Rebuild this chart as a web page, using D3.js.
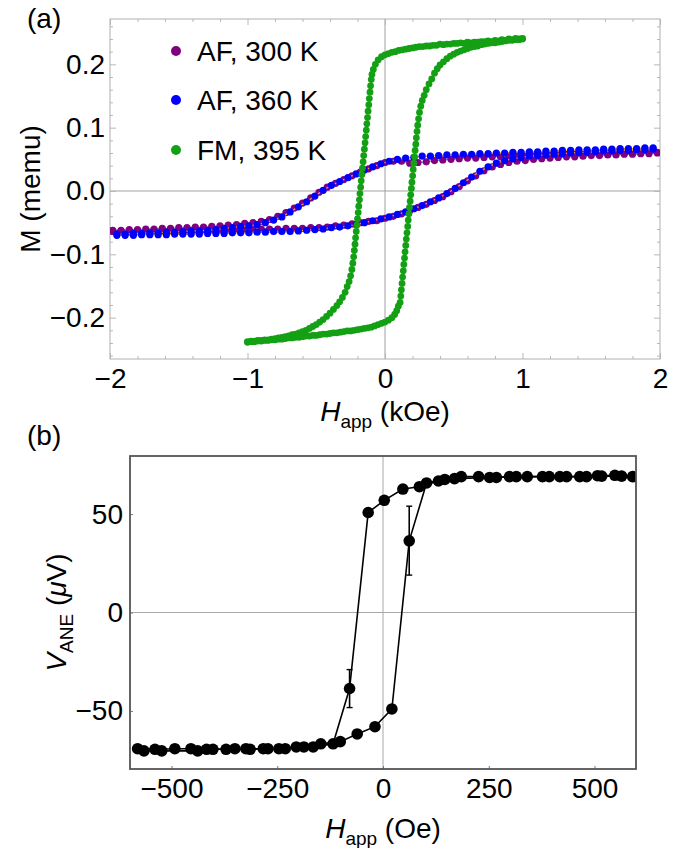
<!DOCTYPE html>
<html><head><meta charset="utf-8">
<script src="https://cdn.jsdelivr.net/npm/d3@7"></script>
<style>
body{margin:0;background:#fff}
svg{display:block}
text{font-family:"Liberation Sans",Arial,Helvetica,sans-serif;fill:#000}
</style>
</head><body>
<svg id="c" width="685" height="848"></svg>
<script>
// ---------------- Panel (a) data ----------------
const SERIES_A = ["AF, 300 K", "AF, 360 K", "FM, 395 K"];
const H_300 = [-1.98,-1.92,-1.86,-1.80,-1.74,-1.68,-1.62,-1.56,-1.50,-1.44,-1.38,-1.32,-1.26,-1.20,-1.14,-1.08,-1.02,-0.96,-0.90,-0.84,-0.78,-0.72,-0.66,-0.60,-0.54,-0.48,-0.42,-0.36,-0.30,-0.24,-0.18,-0.12,-0.06,0.00,0.06,0.12,0.18,0.24,0.30,0.36,0.42,0.48,0.54,0.60,0.66,0.72,0.78,0.84,0.90,0.96,1.02,1.08,1.14,1.20,1.26,1.32,1.38,1.44,1.50,1.56,1.62,1.68,1.74,1.80,1.86,1.92,1.98];
const M_300_DOWN = [-0.062,-0.062,-0.061,-0.061,-0.060,-0.060,-0.059,-0.059,-0.058,-0.058,-0.057,-0.057,-0.056,-0.055,-0.054,-0.053,-0.051,-0.050,-0.048,-0.045,-0.040,-0.034,-0.027,-0.019,-0.011,-0.002,0.006,0.012,0.018,0.024,0.030,0.035,0.040,0.045,0.047,0.047,0.044,0.045,0.046,0.048,0.049,0.050,0.051,0.052,0.052,0.053,0.054,0.054,0.055,0.055,0.055,0.056,0.056,0.057,0.057,0.058,0.058,0.058,0.059,0.059,0.059,0.060,0.060,0.060,0.060,0.061,0.061];
const M_300_UP = [-0.064,-0.064,-0.064,-0.064,-0.064,-0.063,-0.063,-0.063,-0.063,-0.063,-0.062,-0.062,-0.062,-0.062,-0.062,-0.061,-0.061,-0.061,-0.060,-0.060,-0.060,-0.059,-0.059,-0.059,-0.058,-0.058,-0.057,-0.055,-0.054,-0.052,-0.050,-0.048,-0.047,-0.043,-0.040,-0.036,-0.031,-0.026,-0.021,-0.015,-0.009,-0.001,0.007,0.016,0.024,0.032,0.038,0.042,0.045,0.047,0.048,0.050,0.051,0.052,0.053,0.054,0.054,0.055,0.056,0.056,0.057,0.057,0.058,0.058,0.059,0.059,0.060];
const H_360 = [-1.95,-1.89,-1.83,-1.77,-1.71,-1.65,-1.59,-1.53,-1.47,-1.41,-1.35,-1.29,-1.23,-1.17,-1.11,-1.05,-0.99,-0.93,-0.87,-0.81,-0.75,-0.69,-0.63,-0.57,-0.51,-0.45,-0.39,-0.33,-0.27,-0.21,-0.15,-0.09,-0.03,0.03,0.09,0.15,0.21,0.27,0.33,0.39,0.45,0.51,0.57,0.63,0.69,0.75,0.81,0.87,0.93,0.99,1.05,1.11,1.17,1.23,1.29,1.35,1.41,1.47,1.53,1.59,1.65,1.71,1.77,1.83,1.89,1.95];
const M_360_DOWN = [-0.068,-0.068,-0.067,-0.067,-0.066,-0.066,-0.065,-0.065,-0.064,-0.063,-0.063,-0.062,-0.061,-0.059,-0.058,-0.056,-0.055,-0.053,-0.050,-0.046,-0.041,-0.033,-0.025,-0.017,-0.008,0.001,0.009,0.015,0.021,0.027,0.033,0.038,0.043,0.047,0.050,0.052,0.053,0.055,0.055,0.056,0.057,0.057,0.058,0.058,0.059,0.059,0.060,0.060,0.061,0.061,0.062,0.062,0.063,0.063,0.064,0.064,0.065,0.065,0.065,0.066,0.066,0.067,0.067,0.067,0.068,0.068];
const M_360_UP = [-0.070,-0.070,-0.070,-0.069,-0.069,-0.069,-0.069,-0.068,-0.068,-0.068,-0.068,-0.067,-0.067,-0.067,-0.066,-0.066,-0.066,-0.065,-0.065,-0.064,-0.064,-0.064,-0.063,-0.062,-0.061,-0.060,-0.058,-0.057,-0.055,-0.053,-0.050,-0.047,-0.044,-0.041,-0.037,-0.033,-0.028,-0.023,-0.017,-0.011,-0.004,0.004,0.013,0.022,0.031,0.038,0.044,0.048,0.051,0.053,0.055,0.056,0.057,0.058,0.059,0.060,0.061,0.061,0.062,0.063,0.063,0.064,0.064,0.065,0.065,0.066];
// FM, 395 K : sweep down (from +1 kOe) and sweep up (from -1 kOe)
const H_395_DOWN = [1.000,0.975,0.950,0.925,0.900,0.875,0.850,0.825,0.800,0.775,0.750,0.725,0.700,0.675,0.650,0.625,0.600,0.575,0.550,0.525,0.500,0.475,0.450,0.425,0.400,0.375,0.350,0.325,0.300,0.275,0.250,0.225,0.200,0.175,0.150,0.125,0.100,0.075,0.050,0.025,0.000,-0.025,-0.050,-0.070,-0.085,-0.095,
 -0.100,-0.105,-0.109,-0.114,-0.118,-0.123,-0.127,-0.132,-0.136,-0.141,-0.145,-0.150,-0.155,-0.159,-0.164,-0.168,-0.173,-0.177,-0.182,-0.186,-0.191,-0.195,-0.200,-0.205,-0.209,-0.214,-0.218,-0.223,-0.228,-0.234,-0.241,-0.250,-0.261,-0.275,
 -0.290,-0.310,-0.330,-0.350,-0.375,-0.400,-0.425,-0.450,-0.475,-0.500,-0.525,-0.550,-0.575,-0.600,-0.625,-0.650,-0.675,-0.700,-0.725,-0.750,-0.775,-0.800,-0.825,-0.850,-0.875,-0.900,-0.925,-0.950,-0.975,-1.000];
const M_395_DOWN = [0.241,0.240,0.241,0.239,0.240,0.238,0.239,0.237,0.238,0.236,0.237,0.236,0.236,0.235,0.235,0.234,0.235,0.233,0.234,0.233,0.233,0.232,0.232,0.231,0.232,0.230,0.230,0.229,0.229,0.228,0.228,0.227,0.226,0.225,0.224,0.223,0.222,0.220,0.219,0.217,0.215,0.212,0.207,0.200,0.192,0.184,
 0.176,0.166,0.156,0.146,0.136,0.126,0.116,0.106,0.096,0.086,0.076,0.066,0.056,0.046,0.036,0.026,0.016,0.006,-0.004,-0.014,-0.024,-0.034,-0.044,-0.054,-0.064,-0.074,-0.084,-0.094,-0.104,-0.114,-0.124,-0.134,-0.143,-0.151,
 -0.160,-0.168,-0.175,-0.181,-0.187,-0.193,-0.198,-0.203,-0.207,-0.211,-0.214,-0.217,-0.220,-0.222,-0.224,-0.226,-0.227,-0.229,-0.230,-0.231,-0.232,-0.233,-0.234,-0.235,-0.235,-0.236,-0.236,-0.237,-0.237,-0.238];
const H_395_UP = [-1.000,-0.975,-0.950,-0.925,-0.900,-0.875,-0.850,-0.825,-0.800,-0.775,-0.750,-0.725,-0.700,-0.675,-0.650,-0.625,-0.600,-0.575,-0.550,-0.525,-0.500,-0.475,-0.450,-0.425,-0.400,-0.375,-0.350,-0.325,-0.300,-0.275,-0.250,-0.225,-0.200,-0.175,-0.150,-0.125,-0.100,-0.075,-0.050,-0.025,0.000,0.025,0.050,0.070,0.085,0.097,
 0.110,0.115,0.119,0.124,0.128,0.133,0.137,0.142,0.146,0.151,0.155,0.160,0.165,0.169,0.174,0.178,0.183,0.187,0.192,0.196,0.201,0.205,0.210,0.215,0.219,0.224,0.228,0.233,0.238,0.244,0.251,0.260,0.271,0.285,
 0.300,0.320,0.340,0.360,0.380,0.400,0.425,0.450,0.475,0.500,0.525,0.550,0.575,0.600,0.625,0.650,0.675,0.700,0.725,0.750,0.775,0.800,0.825,0.850,0.875,0.900,0.925,0.950,0.975,1.000];
const M_395_UP = [-0.239,-0.238,-0.238,-0.237,-0.237,-0.236,-0.236,-0.235,-0.235,-0.234,-0.234,-0.233,-0.232,-0.232,-0.231,-0.231,-0.230,-0.229,-0.229,-0.228,-0.228,-0.227,-0.226,-0.226,-0.225,-0.224,-0.224,-0.223,-0.222,-0.221,-0.221,-0.220,-0.219,-0.218,-0.217,-0.216,-0.215,-0.213,-0.211,-0.209,-0.207,-0.204,-0.200,-0.195,-0.189,-0.182,
 -0.176,-0.166,-0.156,-0.146,-0.136,-0.126,-0.116,-0.106,-0.096,-0.086,-0.076,-0.066,-0.056,-0.046,-0.036,-0.026,-0.016,-0.006,0.004,0.014,0.024,0.034,0.044,0.054,0.064,0.074,0.084,0.094,0.104,0.114,0.124,0.134,0.143,0.151,
 0.160,0.169,0.177,0.186,0.193,0.199,0.204,0.209,0.213,0.216,0.219,0.221,0.223,0.225,0.227,0.228,0.229,0.231,0.232,0.233,0.234,0.234,0.235,0.236,0.237,0.238,0.238,0.239,0.239,0.240];
const A_XTICKS = [-2,-1,0,1,2];
const A_XLABELS = ["\u22122","\u22121","0","1","2"];
const A_YTICKS = [-0.2,-0.1,0,0.1,0.2];
const A_YLABELS = ["\u22120.2","\u22120.1","0.0","0.1","0.2"];

// ---------------- Panel (b) data ----------------
const H_B_DOWN = [590,548,507,465,418,377,341,299,252,169,131,86,47,3,-35,-79,-118,-165,-187,-231,-272,-314,-350,-402,-438,-523,-565];
const V_B_DOWN = [69,69.7,69.5,69,69,69,69,69,68.6,68,66.8,63.9,62.7,57,50.8,-38.6,-66.7,-68.3,-68.3,-69.2,-69.2,-69.5,-69.2,-69.5,-70.3,-70.3,-70.3];
const H_B_UP = [-580,-539,-492,-454,-417,-371,-324,-283,-246,-205,-147,-101,-61,-19,21,62,103,146,185,226,268,315,393,434,481,517,564];
const V_B_UP = [-69.2,-69.5,-69.2,-69.2,-69.5,-69.5,-69.2,-69.2,-69.2,-68.3,-66.7,-65.6,-61.7,-58,-49,36.4,65.8,67.6,69,69,68.6,69,69,69,69,69.3,69.3];
const ERR_H = [-79, 62];
const ERR_V = [-38.6, 36.4];
const ERR_LO = [-48.3, 19];
const ERR_HI = [-29, 54];
const B_XTICKS = [-500,-250,0,250,500];
const B_XLABELS = ["\u2212500","\u2212250","0","250","500"];
const B_YTICKS = [-50,0,50];
const B_YLABELS = ["\u221250","0","50"];

// ---------------- Drawing ----------------
const svg = d3.select("#c");
const FS = 28;
const FSUB = 19;
const COLORS = ["#800080", "#0000ff", "#14a014"];
const LINECOL = ["#6b8fc4", "#e3a23a", "#e3a23a"];

function styleAxis(g, col) {
  g.select(".domain").remove();
  g.selectAll(".tick line").attr("stroke", col);
  g.selectAll(".tick text").attr("font-size", FS).attr("fill", "#000")
   .attr("font-family", '"Liberation Sans",Arial,sans-serif');
}

// ===== Panel A =====
const ax = d3.scaleLinear().domain([-2, 2]).range([110, 660]);
const ay = d3.scaleLinear().domain([-0.2653, 0.2716]).range([359, 19]);
const gA = svg.append("g");
gA.append("defs").append("clipPath").attr("id", "clipA").append("rect")
  .attr("x", ax.range()[0]).attr("y", ay.range()[1])
  .attr("width", ax.range()[1] - ax.range()[0]).attr("height", ay.range()[0] - ay.range()[1]);

// zero lines
gA.append("line").attr("x1", ax(0)).attr("x2", ax(0)).attr("y1", ay.range()[0]).attr("y2", ay.range()[1]).attr("stroke", "#a0a0a0").attr("stroke-width", 1);
gA.append("line").attr("x1", ax.range()[0]).attr("x2", ax.range()[1]).attr("y1", ay(0)).attr("y2", ay(0)).attr("stroke", "#a0a0a0").attr("stroke-width", 1);

const tickCol = "#b8b8b8";
const xMinorA = d3.range(-2, 2.0001, 0.2).filter(v => Math.abs(v - Math.round(v)) > 1e-6);
const yMinorA = d3.range(-0.26, 0.2701, 0.02).filter(v => Math.abs(v * 10 - Math.round(v * 10)) > 1e-6);
// bottom
gA.append("g").attr("transform", `translate(0,${ay.range()[0]})`)
  .call(d3.axisBottom(ax).tickValues(A_XTICKS).tickFormat((d, i) => A_XLABELS[i]).tickSizeInner(-6).tickSizeOuter(0).tickPadding(9))
  .call(g => styleAxis(g, tickCol));
gA.append("g").attr("transform", `translate(0,${ay.range()[0]})`)
  .call(d3.axisBottom(ax).tickValues(xMinorA).tickFormat("").tickSizeInner(-3).tickSizeOuter(0)).call(g => styleAxis(g, tickCol));
// top
gA.append("g").attr("transform", `translate(0,${ay.range()[1]})`)
  .call(d3.axisTop(ax).tickValues(A_XTICKS).tickFormat("").tickSizeInner(-6).tickSizeOuter(0)).call(g => styleAxis(g, tickCol));
gA.append("g").attr("transform", `translate(0,${ay.range()[1]})`)
  .call(d3.axisTop(ax).tickValues(xMinorA).tickFormat("").tickSizeInner(-3).tickSizeOuter(0)).call(g => styleAxis(g, tickCol));
// left
gA.append("g").attr("transform", `translate(${ax.range()[0]},0)`)
  .call(d3.axisLeft(ay).tickValues(A_YTICKS).tickFormat((d, i) => A_YLABELS[i]).tickSizeInner(-6).tickSizeOuter(0).tickPadding(5))
  .call(g => styleAxis(g, tickCol));
gA.append("g").attr("transform", `translate(${ax.range()[0]},0)`)
  .call(d3.axisLeft(ay).tickValues(yMinorA).tickFormat("").tickSizeInner(-3).tickSizeOuter(0)).call(g => styleAxis(g, tickCol));
// right
gA.append("g").attr("transform", `translate(${ax.range()[1]},0)`)
  .call(d3.axisRight(ay).tickValues(A_YTICKS).tickFormat("").tickSizeInner(-6).tickSizeOuter(0)).call(g => styleAxis(g, tickCol));
gA.append("g").attr("transform", `translate(${ax.range()[1]},0)`)
  .call(d3.axisRight(ay).tickValues(yMinorA).tickFormat("").tickSizeInner(-3).tickSizeOuter(0)).call(g => styleAxis(g, tickCol));

// frame
gA.append("rect").attr("x", ax.range()[0]).attr("y", ay.range()[1])
  .attr("width", ax.range()[1] - ax.range()[0]).attr("height", ay.range()[0] - ay.range()[1])
  .attr("fill", "none").attr("stroke", "#b0b0b0").attr("stroke-width", 1);

const seriesA = [
  {col: 0, branches: [[H_300, M_300_UP], [H_300.slice().reverse(), M_300_DOWN.slice().reverse()]]},
  {col: 1, branches: [[H_360, M_360_UP], [H_360.slice().reverse(), M_360_DOWN.slice().reverse()]]},
  {col: 2, branches: [[H_395_DOWN, M_395_DOWN], [H_395_UP, M_395_UP]]}
];
const plotA = gA.append("g").attr("clip-path", "url(#clipA)");
const lineA = d3.line().x(d => ax(d[0])).y(d => ay(d[1]));
seriesA.forEach(s => {
  const g = plotA.append("g");
  s.branches.forEach(([hs, ms]) => {
    const pts = hs.map((h, i) => [h, ms[i]]);
    g.append("path").attr("d", lineA(pts)).attr("fill", "none")
      .attr("stroke", LINECOL[s.col]).attr("stroke-width", 1.3);
  });
  s.branches.forEach(([hs, ms]) => {
    const pts = hs.map((h, i) => [h, ms[i]]);
    g.selectAll(null).data(pts).enter().append("circle")
      .attr("cx", d => ax(d[0])).attr("cy", d => ay(d[1]))
      .attr("r", s.col === 2 ? 3.4 : 3.6).attr("fill", COLORS[s.col]);
  });
});

// legend
const legY = [51, 100, 150];
SERIES_A.forEach((name, i) => {
  gA.append("circle").attr("cx", 176).attr("cy", legY[i]).attr("r", 5).attr("fill", COLORS[i]);
  gA.append("text").attr("x", 197).attr("y", legY[i]).attr("dy", "0.36em")
    .attr("font-size", FS).text(name);
});

// axis titles A
const tA = gA.append("text").attr("x", ax(0)).attr("y", 421).attr("text-anchor", "middle").attr("font-size", FS);
tA.append("tspan").attr("font-style", "italic").text("H");
tA.append("tspan").attr("font-size", FSUB).attr("dy", 7).text("app");
tA.append("tspan").attr("dy", -7).text(" (kOe)");
gA.append("text").attr("transform", `translate(40,${(ay.range()[0] + ay.range()[1]) / 2}) rotate(-90)`)
  .attr("text-anchor", "middle").attr("font-size", FS).text("M (memu)");
svg.append("text").attr("x", 27).attr("y", 28).attr("font-size", FS).text("(a)");

// ===== Panel B =====
const bx = d3.scaleLinear().domain([-598, 598]).range([130, 636]);
const by = d3.scaleLinear().domain([-79.5, 79.5]).range([769, 456]);
const gB = svg.append("g");
gB.append("defs").append("clipPath").attr("id", "clipB").append("rect")
  .attr("x", bx.range()[0]).attr("y", by.range()[1])
  .attr("width", bx.range()[1] - bx.range()[0]).attr("height", by.range()[0] - by.range()[1]);
gB.append("line").attr("x1", bx(0)).attr("x2", bx(0)).attr("y1", by.range()[0]).attr("y2", by.range()[1]).attr("stroke", "#a8a8a8").attr("stroke-width", 1);
gB.append("line").attr("x1", bx.range()[0]).attr("x2", bx.range()[1]).attr("y1", by(0)).attr("y2", by(0)).attr("stroke", "#a8a8a8").attr("stroke-width", 1);

gB.append("g").attr("transform", `translate(0,${by.range()[0]})`)
  .call(d3.axisBottom(bx).tickValues(B_XTICKS).tickFormat((d, i) => B_XLABELS[i]).tickSizeInner(-3).tickSizeOuter(0).tickPadding(9))
  .call(g => styleAxis(g, "#777"));
gB.append("g").attr("transform", `translate(${bx.range()[0]},0)`)
  .call(d3.axisLeft(by).tickValues(B_YTICKS).tickFormat((d, i) => B_YLABELS[i]).tickSizeInner(-3).tickSizeOuter(0).tickPadding(7))
  .call(g => styleAxis(g, "#777"));

const plotB = gB.append("g").attr("clip-path", "url(#clipB)");
const lineB = d3.line().x(d => bx(d[0])).y(d => by(d[1]));
[[H_B_DOWN, V_B_DOWN], [H_B_UP, V_B_UP]].forEach(([hs, vs]) => {
  plotB.append("path").attr("d", lineB(hs.map((h, i) => [h, vs[i]])))
    .attr("fill", "none").attr("stroke", "#000").attr("stroke-width", 1.6);
});
ERR_H.forEach((h, i) => {
  const x = bx(h);
  plotB.append("line").attr("x1", x).attr("x2", x).attr("y1", by(ERR_LO[i])).attr("y2", by(ERR_HI[i])).attr("stroke", "#000").attr("stroke-width", 1.6);
  [ERR_LO[i], ERR_HI[i]].forEach(v => {
    plotB.append("line").attr("x1", x - 3).attr("x2", x + 3).attr("y1", by(v)).attr("y2", by(v)).attr("stroke", "#000").attr("stroke-width", 1.4);
  });
});
[[H_B_DOWN, V_B_DOWN], [H_B_UP, V_B_UP]].forEach(([hs, vs]) => {
  plotB.selectAll(null).data(hs.map((h, i) => [h, vs[i]])).enter().append("circle")
    .attr("cx", d => bx(d[0])).attr("cy", d => by(d[1])).attr("r", 5.8).attr("fill", "#000");
});
gB.append("rect").attr("x", bx.range()[0]).attr("y", by.range()[1])
  .attr("width", bx.range()[1] - bx.range()[0]).attr("height", by.range()[0] - by.range()[1])
  .attr("fill", "none").attr("stroke", "#555").attr("stroke-width", 1.8);

const tB = gB.append("text").attr("x", bx(0)).attr("y", 838).attr("text-anchor", "middle").attr("font-size", FS);
tB.append("tspan").attr("font-style", "italic").text("H");
tB.append("tspan").attr("font-size", FSUB).attr("dy", 7).text("app");
tB.append("tspan").attr("dy", -7).text(" (Oe)");
const yB = gB.append("text").attr("transform", `translate(66,${(by.range()[0] + by.range()[1]) / 2}) rotate(-90)`)
  .attr("text-anchor", "middle").attr("font-size", FS);
yB.append("tspan").attr("font-style", "italic").text("V");
yB.append("tspan").attr("font-size", FSUB).attr("dy", 7).text("ANE");
yB.append("tspan").attr("dy", -7).text(" (");
yB.append("tspan").attr("font-style", "italic").text("\u03bc");
yB.append("tspan").text("V)");
svg.append("text").attr("x", 27).attr("y", 445).attr("font-size", FS).text("(b)");
</script>
</body></html>
